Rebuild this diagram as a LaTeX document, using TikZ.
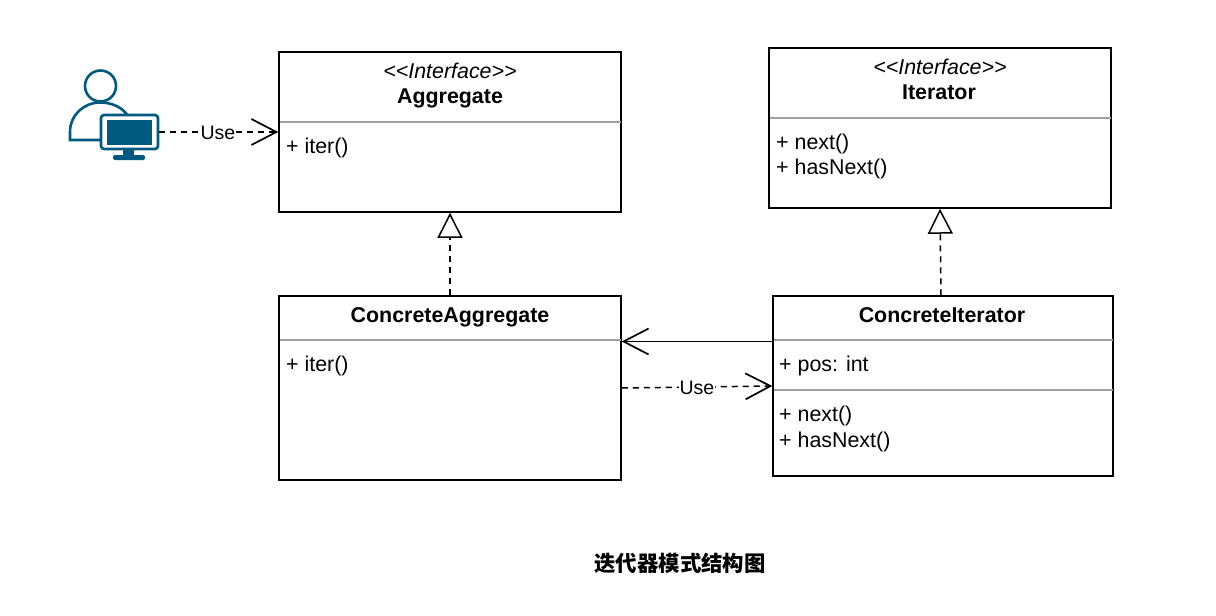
\documentclass[tikz,border=0pt]{standalone}
\usepackage{fontspec}
\setmainfont{Liberation Sans}
\newfontfamily\cjk{Noto Sans CJK SC}
\usetikzlibrary{arrows.meta,calc}
\definecolor{iconblue}{HTML}{005A80}
\definecolor{divgray}{HTML}{A0A0A0}
\tikzset{
  x=1pt,y=-1pt,
  umlbox/.style={draw=black,line width=1.5pt,fill=white,inner sep=0pt,minimum width=#1},
  txt/.style={font=\fontsize{21.4}{25}\selectfont,inner sep=0pt,anchor=west,align=left},
  ttl/.style={font=\fontsize{21.4}{25}\selectfont\bfseries,inner sep=0pt},
  stereo/.style={font=\fontsize{21.4}{25}\selectfont\itshape,inner sep=0pt},
  divider/.style={draw=divgray,line width=1.3pt},
  dep/.style={line width=1.5pt,dash pattern=on 6pt off 5pt,-{Straight Barb[length=25pt,width=26pt,line width=1.7pt]}},
  assoc/.style={line width=1.8pt,-{Straight Barb[length=25pt,width=26pt,line width=1.7pt]}},
  realize/.style={line width=1.5pt,dash pattern=on 6pt off 5pt,-{Triangle[open,length=25pt,width=25pt,fill=white,line width=1.5pt]}},
  lbl/.style={font=\fontsize{19.5}{23}\selectfont,fill=white,inner sep=1pt},
  icon/.style={draw=iconblue,line width=2.6pt},
}
\begin{document}
\begin{tikzpicture}
\useasboundingbox (0,0) rectangle (1216,616);
% boxes
\node[umlbox=342pt,minimum height=160pt] (agg) at (450,132) {};
\node[umlbox=342pt,minimum height=160pt] (it) at (940,128) {};
\node[umlbox=342pt,minimum height=184pt] (cagg) at (450,388) {};
\node[umlbox=340pt,minimum height=180pt] (cit) at (943,386) {};
% dividers
\draw[divider] (280,122) -- (621,122);
\draw[divider] (770,118) -- (1111,118);
\draw[divider] (280,340) -- (621,340);
\draw[divider] (774,340) -- (1113,340);
\draw[divider] (774,390) -- (1113,390);
% texts
\node[stereo] (aggs) at (450,71) {<{}<Interface>{}>};
\node[ttl] (aggn) at (450,98) {Aggregate};
\node[txt] (aggm) at (286,148) {+ iter()};
\node[stereo] (its) at (940,67) {<{}<Interface>{}>};
\node[ttl] (itn) at (939,92.5) {Iterator};
\node[txt] (itm1) at (776,144) {+ next()};
\node[txt] (itm2) at (776,169) {+ hasNext()};
\node[ttl] (caggn) at (450,317) {ConcreteAggregate};
\node[txt] (caggm) at (286,366) {+ iter()};
\node[ttl] (citn) at (942,315.5) {ConcreteIterator};
\node[txt] (citf) at (779,366) {+ pos: int};
\node[txt] (citm1) at (779,416) {+ next()};
\node[txt] (citm2) at (779,442) {+ hasNext()};
\node[font=\cjk\fontsize{21.4}{25}\selectfont\bfseries,inner sep=0pt] (title) at (680,563) {迭代器模式结构图};
% user icon
\draw[icon] (100.5,86) circle (15.5);
\draw[icon,fill=white] (70,140) -- (70,132) .. controls (70,115) and (84,102.5) .. (100,102.5) .. controls (113,102.5) and (123,108) .. (128,116) -- (128,140) -- cycle;
\draw[iconblue,fill=white,line width=2.6pt,rounded corners=3pt] (101,115) rectangle (158,149);
\fill[iconblue] (107,120) rectangle (152,145);
\fill[iconblue] (123,149) rectangle (134,156);
\fill[iconblue,rounded corners=2pt] (113,155) rectangle (145,160);
\coordinate (user) at (159,132);
% connectors
\draw[dep] (user) -- (agg.west);
\node[lbl] (use1) at (218,132.5) {Use};
\draw[realize] (cagg.north) -- (agg.south);
\draw[realize] (cit.north -| 941,0) -- (it.south);
\draw[assoc] (cit.west |- 0,341.5) -- (cagg.east |- 0,341.5);
\draw[dep] (cagg.east) -- (cit.west);
\node[lbl] (use2) at (697,387.5) {Use};
\end{tikzpicture}
\end{document}
